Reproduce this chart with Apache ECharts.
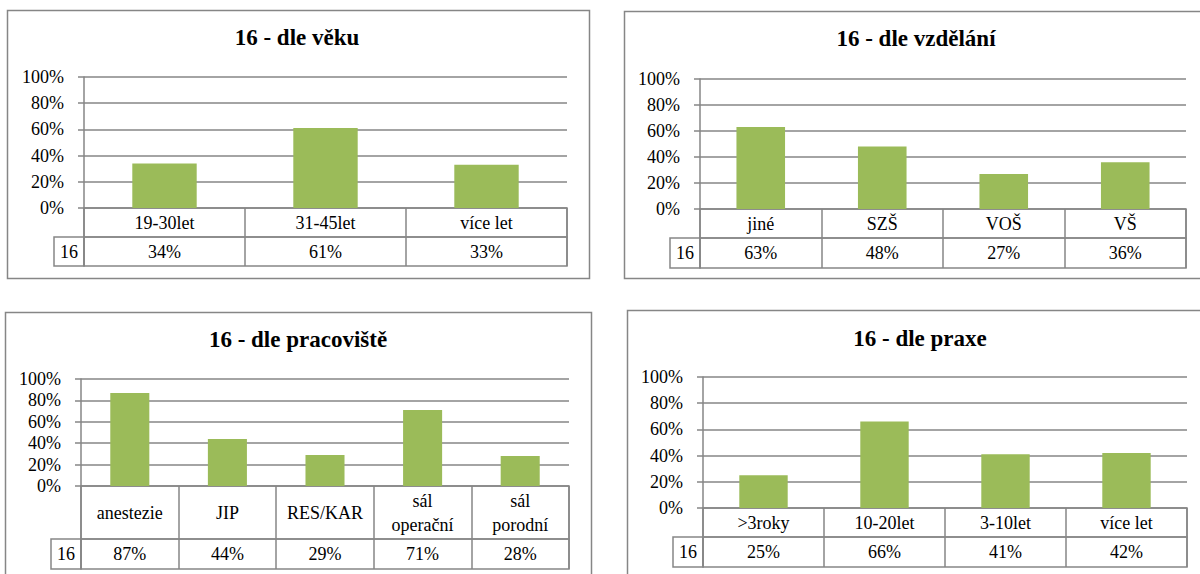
<!DOCTYPE html>
<html>
<head>
<meta charset="utf-8">
<script src="https://cdn.jsdelivr.net/npm/echarts@6/dist/echarts.min.js"></script>
<style>
html,body{margin:0;padding:0;background:#fff;}
#main{width:1200px;height:574px;}
</style>
</head>
<body>
<div id="main"></div>
<script>
// ---- data ----
const titles = ['16 - dle věku', '16 - dle vzdělání', '16 - dle pracoviště', '16 - dle praxe'];
const seriesName = '16';
const catsAge = ['19-30let', '31-45let', 'více let'];
const valsAge = [34, 61, 33];
const catsEdu = ['jiné', 'SZŠ', 'VOŠ', 'VŠ'];
const valsEdu = [63, 48, 27, 36];
const catsWork = ['anestezie', 'JIP', 'RES/KAR', 'sál\noperační', 'sál\nporodní'];
const valsWork = [87, 44, 29, 71, 28];
const catsPrax = ['>3roky', '10-20let', '3-10let', 'více let'];
const valsPrax = [25, 66, 41, 42];
const yTicks = [0, 20, 40, 60, 80, 100];

// ---- layout (pixels) ----
const layouts = [
  {box:[7,10,582,268], l:84, r:567, t:77, rows:[208,237,266], cellLeft:54, tx:297, ty:40},
  {box:[624,11,620,267], l:700, r:1186, t:79, rows:[209,238,268], cellLeft:670, tx:916, ty:41},
  {box:[5,312,586,280], l:81, r:569, t:379, rows:[486,539,569], cellLeft:51, tx:298, ty:342},
  {box:[627,310,620,280], l:703, r:1187, t:377, rows:[508,537,567], cellLeft:673, tx:920, ty:341}
];
const datasets = [
  {cats: catsAge, vals: valsAge},
  {cats: catsEdu, vals: valsEdu},
  {cats: catsWork, vals: valsWork},
  {cats: catsPrax, vals: valsPrax}
];

const FONT = 'Liberation Serif';
const LINE = '#868686';
const BAR = '#9BBB59';
const FS = 18;

const grid = [], xAxis = [], yAxis = [], series = [], title = [], graphic = [];

layouts.forEach((L, i) => {
  const d = datasets[i];
  const w = L.r - L.l;
  const yMin = yTicks[0], yMax = yTicks[yTicks.length - 1], yInt = yTicks[1] - yTicks[0];

  title.push({
    text: titles[i], left: L.tx, top: L.ty - 14, textAlign: 'center', padding: 0,
    textStyle: {fontFamily: FONT, fontSize: 23, fontWeight: 'bold', color: '#000'}
  });
  graphic.push({
    type: 'rect', shape: {x: L.box[0] + 0.5, y: L.box[1] + 0.5, width: L.box[2], height: L.box[3]},
    style: {fill: 'none', stroke: LINE, lineWidth: 1.5}, silent: true
  });

  // bar grid
  const g0 = grid.length;
  grid.push({left: L.l, top: L.t, width: w, height: L.rows[0] - L.t, containLabel: false});
  xAxis.push({gridIndex: g0, type: 'category', data: d.cats,
    axisLine: {show: false}, axisTick: {show: false}, axisLabel: {show: false}, splitLine: {show: false}});
  yAxis.push({gridIndex: g0, type: 'value', min: yMin, max: yMax, interval: yInt,
    axisLine: {show: true, lineStyle: {color: LINE, width: 1.5}},
    axisTick: {show: true, length: 6, lineStyle: {color: LINE, width: 1.5}},
    axisLabel: {formatter: '{value}%', margin: 20, fontFamily: FONT, fontSize: FS, color: '#000'},
    splitLine: {show: true, lineStyle: {color: LINE, width: 1.5}}});
  series.push({type: 'bar', xAxisIndex: g0, yAxisIndex: g0, data: d.vals, barWidth: '40%',
    itemStyle: {color: BAR}, silent: true, animation: false});

  // category row grid
  const catH = L.rows[1] - L.rows[0];
  const g1 = grid.length;
  grid.push({left: L.l, top: L.rows[0], width: w, height: catH, show: true, borderColor: LINE, borderWidth: 1.5});
  xAxis.push({gridIndex: g1, type: 'category', data: d.cats, boundaryGap: true,
    axisLine: {show: false}, axisTick: {show: false},
    axisLabel: {inside: true, margin: catH / 2, verticalAlign: 'middle', fontFamily: FONT, fontSize: FS, color: '#000', lineHeight: 24, interval: 0},
    splitLine: {show: true, lineStyle: {color: LINE, width: 1.5}}});
  yAxis.push({gridIndex: g1, type: 'value', show: false, min: 0, max: 1});

  // value row grid
  const valH = L.rows[2] - L.rows[1];
  const g2 = grid.length;
  grid.push({left: L.l, top: L.rows[1], width: w, height: valH, show: true, borderColor: LINE, borderWidth: 1.5});
  xAxis.push({gridIndex: g2, type: 'category', data: d.cats, boundaryGap: true,
    axisLine: {show: false}, axisTick: {show: false},
    axisLabel: {inside: true, margin: valH / 2, verticalAlign: 'middle', fontFamily: FONT, fontSize: FS, color: '#000', interval: 0,
      formatter: (v, idx) => d.vals[idx] + '%'},
    splitLine: {show: true, lineStyle: {color: LINE, width: 1.5}}});
  yAxis.push({gridIndex: g2, type: 'value', show: false, min: 0, max: 1});

  // series name cell
  const g3 = grid.length;
  grid.push({left: L.cellLeft, top: L.rows[1], width: L.l - L.cellLeft, height: valH, show: true, borderColor: LINE, borderWidth: 1.5});
  xAxis.push({gridIndex: g3, type: 'category', data: [seriesName], boundaryGap: true,
    axisLine: {show: false}, axisTick: {show: false},
    axisLabel: {inside: true, margin: valH / 2, verticalAlign: 'middle', fontFamily: FONT, fontSize: FS, color: '#000'},
    splitLine: {show: false}});
  yAxis.push({gridIndex: g3, type: 'value', show: false, min: 0, max: 1});
});

const chart = echarts.init(document.getElementById('main'), null, {renderer: 'svg'});
chart.setOption({
  animation: false,
  backgroundColor: '#fff',
  title, grid, xAxis, yAxis, series, graphic
});
</script>
</body>
</html>
